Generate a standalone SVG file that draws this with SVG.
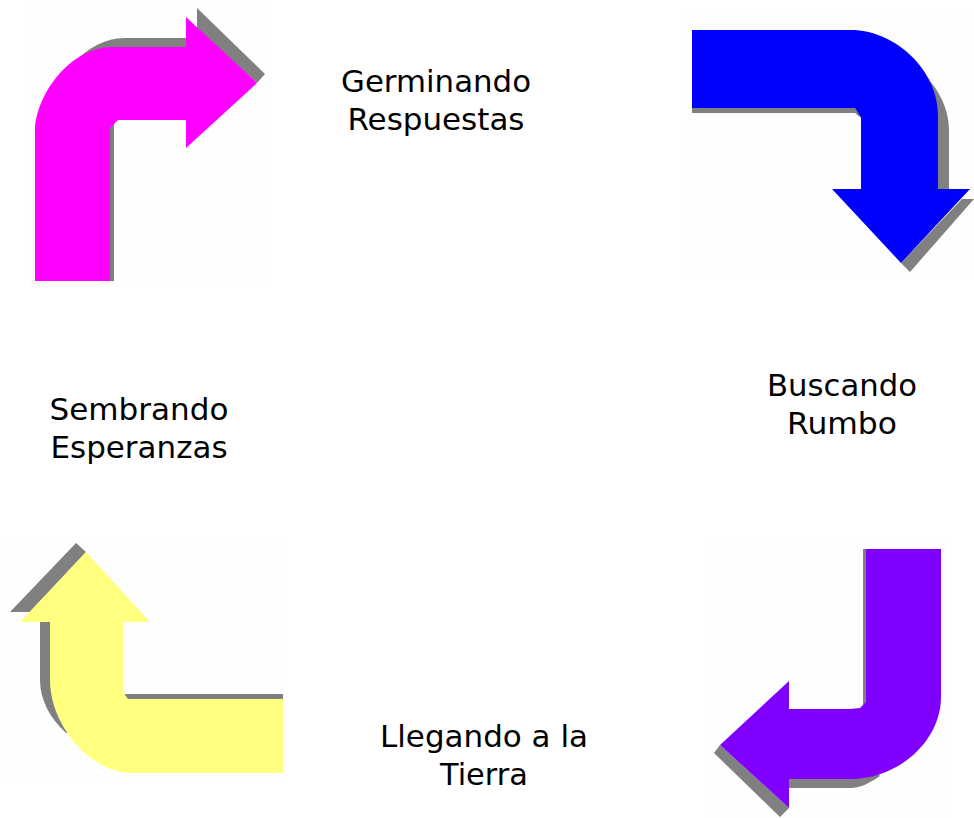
<svg xmlns="http://www.w3.org/2000/svg" width="974" height="818" viewBox="0 0 974 818">
<style>
.bg{fill:#fefefe}
.sh{fill:#808080}
text{font-family:"DejaVu Sans",Verdana,sans-serif;font-size:30px;fill:#000;text-anchor:middle}
</style>
<rect width="974" height="818" fill="#fff"/>
<g id="arrow-magenta">
<rect class="bg" x="29" y="0" width="239" height="283"/>
<path class="sh" d="M75 62C88 48 105 38 125 38H186V60H100ZM197 8L265 74L257 83L197 30ZM108 122H114V281H108Z"/>
<path fill="#ff00ff" d="M35 281V130C36 95 70 47 112 47H186V17L257 83L186 148V120H118L110 128V281Z"/>
</g>
<g id="arrow-blue">
<rect class="bg" x="685" y="8" width="289" height="268"/>
<path class="sh" d="M692 104V113H855L861 118V104ZM922 72C938 88 949 108 949 130V192H930V80ZM962 199H974L910 272L901 263Z"/>
<path fill="#0000ff" d="M692 30H851C895 30 938 70 938 115V189H970L901 263L832 189H861V117L855 108H692Z"/>
</g>
<g id="arrow-yellow">
<rect class="bg" x="5" y="540" width="280" height="240"/>
<path class="sh" d="M76 543L86 552L30 612H10ZM40 622H70V733H66C50 718 40 700 40 680ZM125 694H283V702H125Z"/>
<path fill="#ffff80" d="M86 552L150 622H123V687L125 695L128 699H283V773H132C90 773 50 725 50 680V622H20Z"/>
</g>
<g id="arrow-purple">
<rect class="bg" x="708" y="541" width="240" height="277"/>
<path class="sh" d="M863 549H868V708H863ZM714 753L720 745L789 808L780 817ZM789 770H875L880 776C870 783 860 788 851 788H789Z"/>
<path fill="#7f00ff" d="M866 549H941V697C941 740 900 779 850 779H789V808L720 745L789 681V709H850L860 708L866 702Z"/>
</g>
<g id="labels">
<text x="436" y="92" textLength="190" lengthAdjust="spacingAndGlyphs">Germinando</text>
<text x="436" y="130" textLength="177" lengthAdjust="spacingAndGlyphs">Respuestas</text>
<text x="139" y="420" textLength="179" lengthAdjust="spacingAndGlyphs">Sembrando</text>
<text x="139" y="458" textLength="177" lengthAdjust="spacingAndGlyphs">Esperanzas</text>
<text x="842" y="396" textLength="150" lengthAdjust="spacingAndGlyphs">Buscando</text>
<text x="842" y="434" textLength="110" lengthAdjust="spacingAndGlyphs">Rumbo</text>
<text x="484" y="747" textLength="208" lengthAdjust="spacingAndGlyphs">Llegando a la</text>
<text x="484" y="785" textLength="88" lengthAdjust="spacingAndGlyphs">Tierra</text>
</g>
</svg>
